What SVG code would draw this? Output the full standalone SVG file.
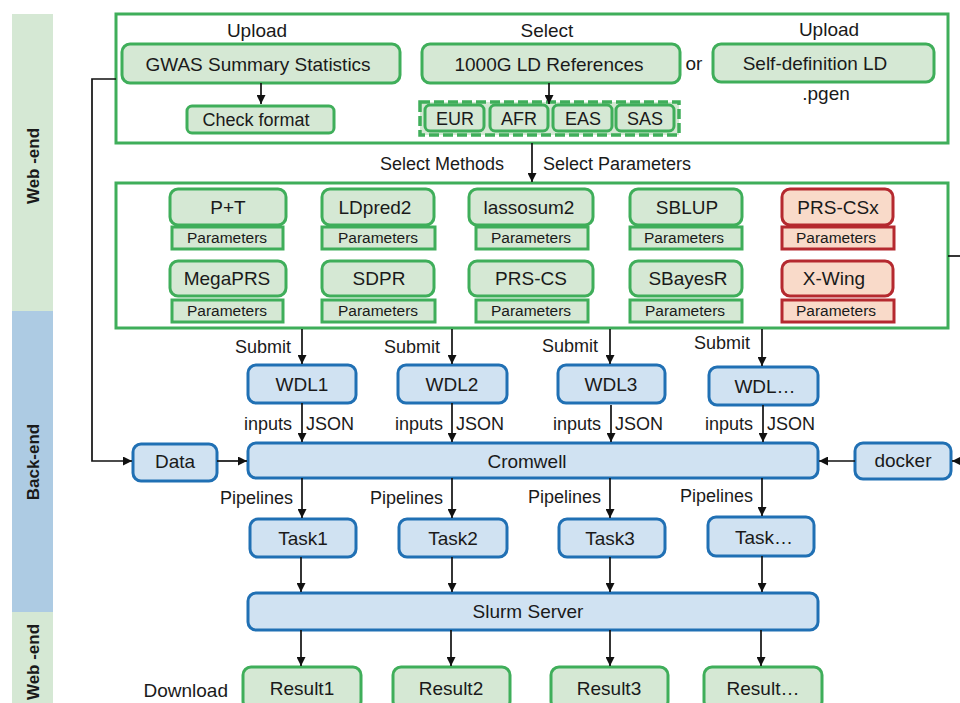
<svg xmlns="http://www.w3.org/2000/svg" width="960" height="703" viewBox="0 0 960 703">
<defs>
<marker id="ah" markerWidth="9" markerHeight="9" refX="9" refY="4.5" orient="auto" markerUnits="userSpaceOnUse">
<path d="M0,0 L9,4.5 L0,9 z" fill="#111"/>
</marker>
<style>
text{font-family:"Liberation Sans",Arial,sans-serif;fill:#1a1a1a}
.t19{font-size:19px}
.t18{font-size:18px}
.t15{font-size:15.5px}
.mid{text-anchor:middle}
.end{text-anchor:end}
.side{font-size:17px;font-weight:bold;text-anchor:middle}
.cont{fill:#fff;stroke:#3fae5a;stroke-width:3}
.g{fill:#d5e8d4;stroke:#3fae5a;stroke-width:3}
.r{fill:#f9dac9;stroke:#b5292f;stroke-width:3}
.b{fill:#d0e2f2;stroke:#2070b4;stroke-width:3}
.dash{fill:#d5e8d4;stroke:#3fae5a;stroke-width:3.5;stroke-dasharray:10 4}
.c{fill:none;stroke:#111;stroke-width:1.7}
.ca{fill:none;stroke:#111;stroke-width:1.7;marker-end:url(#ah)}
</style>
</defs>

<g id="bands">
<rect x="12" y="14" width="41" height="297" fill="#d5e8d4"/>
<rect x="12" y="311" width="41" height="301" fill="#adcbe3"/>
<rect x="12" y="612" width="41" height="91" fill="#d5e8d4"/>
<text class="side" transform="translate(39,166) rotate(-90)">Web -end</text>
<text class="side" transform="translate(39,462) rotate(-90)">Back-end</text>
<text class="side" transform="translate(39,662) rotate(-90)">Web -end</text>
</g>

<g id="input-panel">
<rect class="cont" x="116" y="14" width="832" height="129"/>
</g>
<g id="gwas">
<text class="t19 mid" x="257" y="37">Upload</text>
<rect class="g" x="122" y="44" width="278" height="39" rx="8"/>
<text class="t19 mid" x="258" y="71">GWAS Summary Statistics</text>
</g>
<g id="check-format">
<rect class="g" x="187" y="106" width="147" height="27" rx="5"/>
<text class="t18 mid" x="256" y="126">Check format</text>
</g>
<g id="ld1000g">
<text class="t19 mid" x="547" y="37">Select</text>
<rect class="g" x="422" y="44" width="258" height="39" rx="8"/>
<text class="t19 mid" x="549" y="71">1000G LD References</text>
<text class="t19 mid" x="694" y="70">or</text>
</g>
<g id="selfld">
<text class="t19 mid" x="829" y="36">Upload</text>
<rect class="g" x="713" y="44" width="221" height="38" rx="8"/>
<text class="t19 mid" x="815" y="70">Self-definition LD</text>
<text class="t19 mid" x="826" y="100">.pgen</text>
</g>
<g id="populations">
<rect class="dash" x="420" y="102" width="259" height="33"/>
<rect class="g" x="425" y="105" width="59" height="26" rx="5"/>
<text class="t18 mid" x="455" y="125">EUR</text>
<rect class="g" x="490" y="105" width="58" height="26" rx="5"/>
<text class="t18 mid" x="519" y="125">AFR</text>
<rect class="g" x="553" y="105" width="59" height="26" rx="5"/>
<text class="t18 mid" x="583" y="125">EAS</text>
<rect class="g" x="616" y="105" width="58" height="26" rx="5"/>
<text class="t18 mid" x="645" y="125">SAS</text>
</g>

<g id="methods-panel">
<rect class="cont" x="116" y="183" width="832" height="145"/>
</g>
<g id="m-pt">
<rect class="g" x="170" y="189" width="116" height="36" rx="8"/>
<text class="t19 mid" x="228" y="214">P+T</text>
<rect class="g" x="172" y="227" width="111" height="22"/>
<text class="t15 mid" x="227" y="243">Parameters</text>
</g>
<g id="m-ldpred2">
<rect class="g" x="322" y="189" width="112" height="36" rx="8"/>
<text class="t19 mid" x="375" y="214">LDpred2</text>
<rect class="g" x="322" y="227" width="113" height="22"/>
<text class="t15 mid" x="378" y="243">Parameters</text>
</g>
<g id="m-lassosum2">
<rect class="g" x="469" y="189" width="124" height="36" rx="8"/>
<text class="t19 mid" x="529" y="214">lassosum2</text>
<rect class="g" x="476" y="227" width="112" height="22"/>
<text class="t15 mid" x="531" y="243">Parameters</text>
</g>
<g id="m-sblup">
<rect class="g" x="630" y="189" width="112" height="36" rx="8"/>
<text class="t19 mid" x="687" y="214">SBLUP</text>
<rect class="g" x="630" y="227" width="112" height="22"/>
<text class="t15 mid" x="684" y="243">Parameters</text>
</g>
<g id="m-prscsx">
<rect class="r" x="782" y="189" width="111" height="36" rx="8"/>
<text class="t19 mid" x="838" y="214">PRS-CSx</text>
<rect class="r" x="782" y="227" width="112" height="22"/>
<text class="t15 mid" x="836" y="243">Parameters</text>
</g>
<g id="m-megaprs">
<rect class="g" x="170" y="261" width="116" height="35" rx="8"/>
<text class="t19 mid" x="227" y="285">MegaPRS</text>
<rect class="g" x="172" y="300" width="111" height="22"/>
<text class="t15 mid" x="227" y="316">Parameters</text>
</g>
<g id="m-sdpr">
<rect class="g" x="322" y="261" width="112" height="35" rx="8"/>
<text class="t19 mid" x="379" y="285">SDPR</text>
<rect class="g" x="322" y="300" width="113" height="22"/>
<text class="t15 mid" x="378" y="316">Parameters</text>
</g>
<g id="m-prscs">
<rect class="g" x="469" y="261" width="124" height="35" rx="8"/>
<text class="t19 mid" x="531" y="285">PRS-CS</text>
<rect class="g" x="476" y="300" width="112" height="22"/>
<text class="t15 mid" x="531" y="316">Parameters</text>
</g>
<g id="m-sbayesr">
<rect class="g" x="630" y="261" width="112" height="35" rx="8"/>
<text class="t19 mid" x="688" y="285">SBayesR</text>
<rect class="g" x="630" y="300" width="112" height="22"/>
<text class="t15 mid" x="685" y="316">Parameters</text>
</g>
<g id="m-xwing">
<rect class="r" x="782" y="261" width="111" height="35" rx="8"/>
<text class="t19 mid" x="834" y="285">X-Wing</text>
<rect class="r" x="782" y="300" width="112" height="22"/>
<text class="t15 mid" x="836" y="316">Parameters</text>
</g>

<g id="wdl1"><rect class="b" x="248" y="365" width="108" height="38" rx="8"/><text class="t19 mid" x="302" y="391">WDL1</text></g>
<g id="wdl2"><rect class="b" x="398" y="365" width="109" height="38" rx="8"/><text class="t19 mid" x="452" y="391">WDL2</text></g>
<g id="wdl3"><rect class="b" x="558" y="365" width="107" height="38" rx="8"/><text class="t19 mid" x="611" y="391">WDL3</text></g>
<g id="wdln"><rect class="b" x="709" y="367" width="109" height="38" rx="8"/><text class="t19 mid" x="765" y="393">WDL…</text></g>

<g id="data"><rect class="b" x="133" y="444" width="84" height="37" rx="8"/><text class="t19 mid" x="175" y="468">Data</text></g>
<g id="cromwell"><rect class="b" x="248" y="443" width="570" height="35" rx="8"/><text class="t19 mid" x="527" y="468">Cromwell</text></g>
<g id="docker"><rect class="b" x="855" y="443" width="96" height="36" rx="8"/><text class="t19 mid" x="903" y="467">docker</text></g>

<g id="task1"><rect class="b" x="250" y="519" width="106" height="38" rx="8"/><text class="t19 mid" x="303" y="545">Task1</text></g>
<g id="task2"><rect class="b" x="399" y="519" width="108" height="38" rx="8"/><text class="t19 mid" x="453" y="545">Task2</text></g>
<g id="task3"><rect class="b" x="559" y="519" width="106" height="38" rx="8"/><text class="t19 mid" x="610" y="545">Task3</text></g>
<g id="taskn"><rect class="b" x="708" y="517" width="106" height="39" rx="8"/><text class="t19 mid" x="764" y="544">Task…</text></g>

<g id="slurm"><rect class="b" x="248" y="593" width="570" height="37" rx="8"/><text class="t19 mid" x="528" y="618">Slurm Server</text></g>

<g id="result1"><rect class="g" x="243" y="667" width="118" height="42" rx="8"/><text class="t19 mid" x="302" y="695">Result1</text></g>
<g id="result2"><rect class="g" x="393" y="667" width="117" height="42" rx="8"/><text class="t19 mid" x="451" y="695">Result2</text></g>
<g id="result3"><rect class="g" x="551" y="667" width="117" height="42" rx="8"/><text class="t19 mid" x="609" y="695">Result3</text></g>
<g id="resultn"><rect class="g" x="704" y="667" width="118" height="42" rx="8"/><text class="t19 mid" x="763" y="695">Result…</text></g>

<g id="connectors">
<path class="ca" d="M261,83 V104"/>
<path class="ca" d="M549,83 V104"/>
<path class="ca" d="M532,143 V182"/>
<text class="t18 end" x="504" y="170">Select Methods</text>
<text class="t18" x="543" y="170">Select Parameters</text>
<path class="c" d="M948,256 H960"/>
<path class="ca" d="M116,79 H92 V461 H132"/>

<path class="ca" d="M302,329 V364"/>
<path class="ca" d="M452,329 V364"/>
<path class="ca" d="M610,329 V364"/>
<path class="ca" d="M762,329 V366"/>
<text class="t18 end" x="291" y="353">Submit</text>
<text class="t18 end" x="440" y="353">Submit</text>
<text class="t18 end" x="598" y="352">Submit</text>
<text class="t18 end" x="750" y="349">Submit</text>

<path class="ca" d="M302,403 V442"/>
<path class="ca" d="M452,403 V442"/>
<path class="ca" d="M611,405 V442"/>
<path class="ca" d="M763,405 V442"/>
<text class="t18 end" x="292" y="430">inputs</text>
<text class="t18" x="306" y="430">JSON</text>
<text class="t18 end" x="443" y="430">inputs</text>
<text class="t18" x="456" y="430">JSON</text>
<text class="t18 end" x="601" y="430">inputs</text>
<text class="t18" x="615" y="430">JSON</text>
<text class="t18 end" x="753" y="430">inputs</text>
<text class="t18" x="767" y="430">JSON</text>

<path class="ca" d="M217,461 H247"/>
<path class="ca" d="M855,461 H819"/>
<path class="ca" d="M960,461 H952"/>

<path class="ca" d="M302,478 V518"/>
<path class="ca" d="M452,478 V518"/>
<path class="ca" d="M610,478 V518"/>
<path class="ca" d="M762,478 V516"/>
<text class="t18 end" x="293" y="504">Pipelines</text>
<text class="t18 end" x="443" y="504">Pipelines</text>
<text class="t18 end" x="601" y="503">Pipelines</text>
<text class="t18 end" x="753" y="502">Pipelines</text>

<path class="ca" d="M301,557 V592"/>
<path class="ca" d="M452,557 V592"/>
<path class="ca" d="M610,557 V592"/>
<path class="ca" d="M762,556 V592"/>

<path class="ca" d="M301,630 V666"/>
<path class="ca" d="M451,630 V666"/>
<path class="ca" d="M610,630 V666"/>
<path class="ca" d="M761,630 V666"/>
<text class="t19 end" x="228" y="697">Download</text>
</g>
</svg>
